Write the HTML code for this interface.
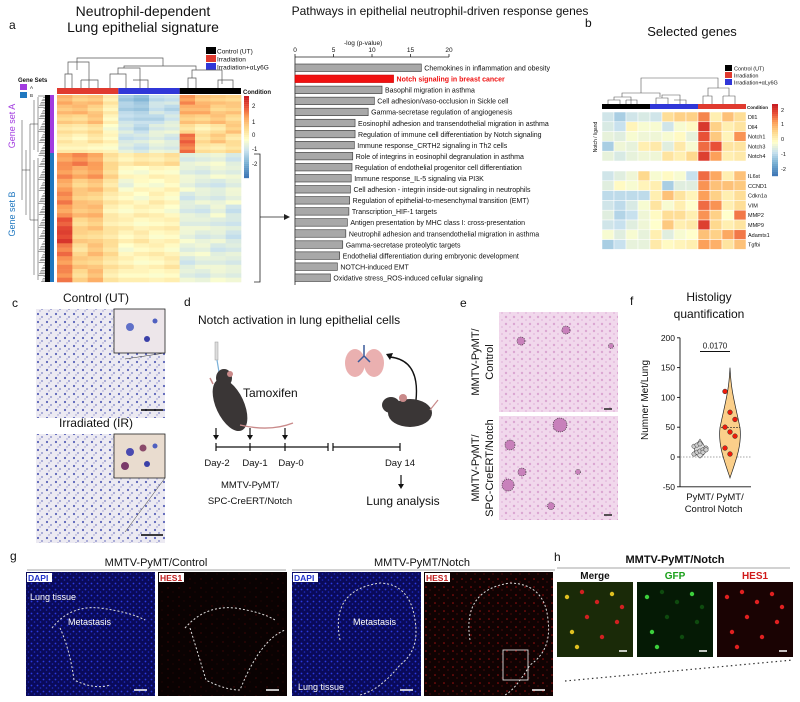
<!DOCTYPE html>
<html><head><meta charset="utf-8"><style>
html,body{margin:0;padding:0;background:#fff;}
svg{display:block;font-family:"Liberation Sans",Arial,sans-serif;}
</style></head><body>
<svg id="fig" width="800" height="702" viewBox="0 0 800 702" xmlns="http://www.w3.org/2000/svg">
<defs>
<pattern id="histoC" width="9" height="8" patternUnits="userSpaceOnUse"><rect width="9" height="8" fill="#eceaf2"/><circle cx="2" cy="2" r="1.1" fill="#5a63b8"/><circle cx="6" cy="5" r="0.9" fill="#7a7fc4"/><circle cx="4" cy="7" r="0.7" fill="#9a9ad0"/></pattern>
<pattern id="histoE" width="8" height="7" patternUnits="userSpaceOnUse"><rect width="8" height="7" fill="#f1d8ec"/><circle cx="2" cy="2" r="1.2" fill="#dba6d2"/><circle cx="6" cy="5" r="1" fill="#e5bde0"/></pattern>
<pattern id="dapi" width="6" height="6" patternUnits="userSpaceOnUse"><rect width="6" height="6" fill="#0a0a5a"/><circle cx="1.5" cy="1.5" r="0.9" fill="#2a3ae0"/><circle cx="4.5" cy="4" r="0.8" fill="#1e2cc0"/></pattern>
<pattern id="hes" width="11" height="9" patternUnits="userSpaceOnUse"><rect width="11" height="9" fill="#0a0202"/><circle cx="3" cy="3" r="0.6" fill="#5a0a0a"/><circle cx="8" cy="7" r="0.5" fill="#400808"/></pattern>
<pattern id="hesN" width="9" height="8" patternUnits="userSpaceOnUse"><rect width="9" height="8" fill="#100202"/><circle cx="3" cy="3" r="0.8" fill="#a01010"/><circle cx="7" cy="6" r="0.6" fill="#701010"/></pattern>
</defs>
<g id="root"></g>
</svg>
<script>
// ---------- Panel a pathway bars ----------
const pathwayNames = ["Chemokines in inflammation and obesity","Notch signaling in breast cancer","Basophil migration in asthma","Cell adhesion/vaso-occlusion in Sickle cell","Gamma-secretase regulation of angiogenesis","Eosinophil adhesion and transendothelial migration in asthma","Regulation of immune cell differentiation by Notch signaling","Immune response_CRTH2 signaling in Th2 cells","Role of integrins in eosinophil degranulation in asthma","Regulation of endothelial progenitor cell differentiation","Immune response_IL-5 signaling via PI3K","Cell adhesion - integrin inside-out signaling in neutrophils","Regulation of epithelial-to-mesenchymal transition (EMT)","Transcription_HIF-1 targets","Antigen presentation by MHC class I: cross-presentation","Neutrophil adhesion and transendothelial migration in asthma","Gamma-secretase proteolytic targets","Endothelial differentiation during embryonic development","NOTCH-induced EMT","Oxidative stress_ROS-induced cellular signaling"];
const pathwayValues = [16.4,12.8,11.3,10.3,9.5,7.8,7.8,7.7,7.5,7.4,7.3,7.2,7.1,7.0,6.8,6.6,6.2,5.8,5.5,4.6];
const pathwayTicks = [0,5,10,15,20];
// ---------- Panel a heatmap (row blocks x 12 samples: Irr x4, Irr+aLy6G x4, Control x4) ----------
const heatBlocksA = [
 [1.2,0.9,1.0,0.4,-1.0,-1.2,-0.7,-0.6,1.5,1.0,0.9,0.8],
 [1.0,1.1,0.8,0.3,-0.9,-1.0,-0.6,-0.8,1.2,1.2,0.8,0.9],
 [0.8,0.7,1.0,0.2,-0.7,-0.8,-0.8,-0.5,0.9,0.8,1.0,0.7],
 [0.5,0.4,0.6,0.0,-0.5,-0.8,-0.4,-0.3,0.6,0.3,0.5,0.9],
 [0.4,0.2,0.5,0.2,-0.6,-0.5,-0.3,-0.5,1.8,0.6,0.9,0.5],
 [0.3,0.3,0.2,0.1,-0.4,-0.6,-0.3,-0.4,1.7,0.5,0.4,0.6]
];
const heatBlocksB = [
 [1.4,1.6,1.3,0.6,0.3,0.5,0.4,0.6,-0.4,-0.3,-0.2,-0.5],
 [1.5,1.2,1.4,0.7,0.1,0.0,0.2,0.1,-0.3,-0.4,-0.2,-0.3],
 [1.3,0.8,1.0,0.5,-0.2,0.1,0.0,0.2,-0.2,-0.4,-0.5,-0.3],
 [1.6,0.9,0.8,0.4,0.2,0.0,0.3,0.1,-0.5,-0.3,-0.4,-0.2],
 [1.4,1.0,1.1,0.3,0.1,0.3,0.2,0.0,-0.4,-0.5,-0.2,-0.6],
 [2.0,0.7,0.9,0.4,0.3,0.1,0.2,0.3,-0.3,-0.3,-0.4,-0.5],
 [2.2,0.8,0.7,0.5,0.2,0.4,0.1,0.2,-0.2,-0.4,-0.3,-0.6],
 [1.7,0.6,1.0,0.6,0.0,0.2,0.3,0.1,-0.3,-0.2,-0.5,-0.4],
 [1.5,0.9,0.8,0.5,0.3,0.1,0.2,0.4,-0.5,-0.3,-0.3,-0.4],
 [1.6,0.7,1.1,0.4,0.2,0.2,0.1,0.2,-0.3,-0.4,-0.2,-0.3]
];
// ---------- Panel b selected genes ----------
const geneNames = ["Dll1","Dll4","Notch1","Notch3","Notch4","IL6st","CCND1","Cdkn1a","VIM","MMP2","MMP9","Adamts1","Tgfbi"];
const geneValues = [
 [-0.6,-1.0,-0.6,-0.5,-0.6,0.6,0.8,0.8,1.6,0.3,1.0,0.6],
 [-0.5,-0.7,0.2,-0.1,-0.1,-0.6,-0.1,0.1,2.3,0.8,0.3,0.5],
 [-0.3,-0.4,-0.1,-0.2,-0.2,-0.1,0.1,-0.3,2.0,0.9,0.2,1.5],
 [-1.0,-0.2,-0.3,0.3,0.4,-0.4,0.4,-0.1,1.8,2.0,0.5,0.5],
 [-0.3,-0.5,-0.3,-0.2,-0.2,0.5,0.3,0.7,2.2,1.4,0.3,0.4],
 [-0.6,-0.4,-0.2,0.7,-0.1,0.1,-0.1,-0.7,1.8,1.3,0.3,1.0],
 [-0.4,0.1,-0.1,0.2,0.3,-1.0,-0.4,-0.4,1.5,1.0,1.0,0.9],
 [-0.8,-0.8,-0.8,-0.8,0.3,1.0,0.5,0.2,1.4,0.8,0.3,0.6],
 [-0.6,-0.8,-0.5,-0.1,0.5,-0.1,0.3,0.0,1.8,1.5,0.3,0.6],
 [-0.4,-0.9,-0.7,-0.2,0.1,0.6,0.6,0.3,1.5,0.8,0.0,1.7],
 [-0.6,-0.7,-0.4,-0.2,0.0,0.9,0.3,0.4,2.2,0.7,0.3,0.5],
 [-0.1,-0.4,-0.1,-0.3,0.3,-0.4,-0.1,0.0,1.0,0.8,1.3,1.7],
 [-1.0,-0.7,-0.3,-0.3,0.4,0.1,0.2,0.3,1.4,1.2,0.5,1.0]
];
// ---------- Panel f violin ----------
const controlPoints = [5,8,10,12,15,18,20,22,8,12];
const notchPoints = [110,75,63,50,42,35,15,5];
const fTicks = [200,150,100,50,0,-50];

const NS="http://www.w3.org/2000/svg";
const root=document.getElementById('root');
function mk(tag,attrs,parent,text){const e=document.createElementNS(NS,tag);for(const k in attrs)e.setAttribute(k,attrs[k]);if(text!==undefined)e.textContent=text;(parent||root).appendChild(e);return e;}
function txt(x,y,s,size,opt,parent){opt=opt||{};const a={x:x,y:y,'font-size':size,fill:opt.fill||'#111'};if(opt.anchor)a['text-anchor']=opt.anchor;if(opt.bold)a['font-weight']='bold';if(opt.rot)a.transform='rotate('+opt.rot+' '+x+' '+y+')';const t=mk('text',a,parent,s);return t;}
function lerp(a,b,t){return a.map((v,i)=>Math.round(v+(b[i]-v)*t));}
const stops=[[-2.5,[49,104,174]],[-1.5,[116,173,209]],[-0.7,[200,225,238]],[0,[255,255,204]],[0.7,[254,217,142]],[1.4,[252,160,90]],[2.0,[232,80,55]],[2.6,[200,30,35]]];
function col(v){if(v<=stops[0][0])return 'rgb('+stops[0][1]+')';for(let i=1;i<stops.length;i++){if(v<=stops[i][0]){const t=(v-stops[i-1][0])/(stops[i][0]-stops[i-1][0]);return 'rgb('+lerp(stops[i-1][1],stops[i][1],t)+')';}}return 'rgb('+stops[stops.length-1][1]+')';}

// ===== Panel a =====
txt(9,29,'a',12,{name:'panel-a-label'});
txt(143,16,'Neutrophil-dependent',14,{anchor:'middle',name:'heatmap-title'});
txt(143,32,'Lung epithelial signature',14,{anchor:'middle',name:'heatmap-title'});
const lg=[['#000','Control (UT)'],['#e03a2f','Irradiation'],['#3037d8','Irradiation+αLy6G']];
lg.forEach((d,i)=>{const r=mk('rect',{x:206,y:47+i*8,width:10,height:7,fill:d[0]});txt(217,53.5+i*8,d[1],6.5,{name:'legend-entry'});});
txt(18,82,'Gene Sets',6,{bold:true,name:'gene-sets-title'});
mk('rect',{x:20,y:84,width:7,height:6,fill:'#a23be0'});txt(30,89,'A',4.5,{});
mk('rect',{x:20,y:92,width:7,height:6,fill:'#2078c0'});txt(30,97,'B',4.5,{});
const hx0=57,hx1=241,hy0=95,hy1=282;
const cw=(hx1-hx0)/12;
// condition bar
['#e03a2f','#3037d8','#000'].forEach((c,i)=>{const r=mk('rect',{x:hx0+i*4*cw,y:88,width:4*cw,height:6,fill:c});});
txt(243,94,'Condition',6,{bold:true,name:'condition-label'});
// heatmap cells
const gA=mk('g',{});
const splitY=153;
function drawBlocks(blocks,y0,y1){const bh=(y1-y0)/blocks.length;blocks.forEach((row,bi)=>{row.forEach((v,ci)=>{const sub=3;for(let s=0;s<sub;s++){const vv=v+((s===1)?-0.15:(s===2?0.12:0));const r=mk('rect',{x:hx0+ci*cw,y:y0+bi*bh+s*bh/sub,width:cw+0.3,height:bh/sub+0.3,fill:col(vv)},gA);}});});}
drawBlocks(heatBlocksA,hy0,splitY);drawBlocks(heatBlocksB,splitY,hy1);
// gene set bars
mk('rect',{x:45,y:hy0,width:5,height:hy1-hy0,fill:'#000'});
mk('rect',{x:50,y:hy0,width:4,height:splitY-hy0,fill:'#a23be0'});
mk('rect',{x:50,y:splitY,width:4,height:hy1-splitY,fill:'#2078c0'});
txt(15,126,'Gene set A',9,{fill:'#a23be0',rot:-90,anchor:'middle',name:'gene-set-a-label'});
txt(15,214,'Gene set B',9,{fill:'#2078c0',rot:-90,anchor:'middle',name:'gene-set-b-label'});
// left dendrogram (schematic)
const dg=mk('g',{stroke:'#333','stroke-width':0.5,fill:'none'});
for(let y=hy0+1;y<hy1;y+=1.6){mk('line',{x1:45,y1:y,x2:38+((y*7)%6),y2:y},dg);}
mk('path',{d:'M38 97V152M38 158V280M30 124V220M30 124H38M30 220H38M22 170H30M22 120V200'},dg);
mk('path',{d:'M34 100V150M34 160V275M26 150V215'},dg);
// top dendrogram
const tg=mk('g',{stroke:'#555','stroke-width':0.7,fill:'none'});
mk('path',{d:'M65 88V74H72V88M68 74V62H89V88M81 80H98V88M81 80V88M89 62V68H89 M77 70V58H163V66 M110 88V74H126V88M118 74V68H140V88M133 80H148V88M140 76V88 M124 68V66H196V70 M188 88V78H196V88M192 78V70H222V80H218V88M218 80H233V88M222 80V84 M163 66V66'},tg);
// colorbar
for(let i=0;i<40;i++){const v=2.6-i*5/40;mk('rect',{x:244,y:96+i*2.05,width:5,height:2.2,fill:col(v)});}
[[2,108],[1,124],[0,137],[-1,151],[-2,166]].forEach(d=>txt(252,d[1],String(d[0]),6,{name:'colorbar-tick'}));
// bracket
mk('path',{d:'M254 154H260V282H254M260 217H284',stroke:'#222','stroke-width':0.8,fill:'none'});
mk('path',{d:'M284 214L290 217L284 220Z',fill:'#222'});

// ===== Panel a bars =====
txt(440,15,'Pathways in epithelial neutrophil-driven response genes',12,{anchor:'middle',name:'bar-chart-title'});
const bx0=295,bx1=449,by0=68,bstep=11.05;
const xs=v=>bx0+(bx1-bx0)*v/20;
txt(xs(10)-28,45,'-log (p-value)',6.5,{name:'x-axis-title'});
mk('line',{x1:xs(0),y1:57,x2:xs(20),y2:57,stroke:'#222','stroke-width':0.8});
mk('line',{x1:xs(0),y1:57,x2:xs(0),y2:285,stroke:'#222','stroke-width':0.8});
pathwayTicks.forEach(t=>{mk('line',{x1:xs(t),y1:54,x2:xs(t),y2:57,stroke:'#222','stroke-width':0.8});txt(xs(t),52,String(t),6.5,{anchor:'middle',name:'x-tick-label'});});
pathwayValues.forEach((v,i)=>{const y=by0+i*bstep;const red=i===1;const r=mk('rect',{x:xs(0),y:y-4,width:xs(v)-xs(0),height:7.5,fill:red?'#f01010':'#a8a8a8',stroke:red?'#c00':'#333','stroke-width':0.6});
txt(xs(v)+3,y+2.5,pathwayNames[i],7,{fill:red?'#f01010':'#111',bold:red,name:'pathway-label'});});

// ===== Panel b =====
txt(585,27,'b',12,{name:'panel-b-label'});
txt(692,36,'Selected genes',13,{anchor:'middle',name:'panel-b-title'});
lg.forEach((d,i)=>{mk('rect',{x:725,y:65+i*7,width:7,height:6,fill:d[0]});txt(734,70.5+i*7,d[1],5.5,{name:'legend-entry'});});
const bxh0=602,bcw=12;
['#000','#3037d8','#e03a2f'].forEach((c,i)=>mk('rect',{x:bxh0+i*4*bcw,y:104,width:4*bcw,height:5,fill:c}));
txt(747,109,'Condition',4.5,{bold:true});
const tg2=mk('g',{stroke:'#555','stroke-width':0.6,fill:'none'});
mk('path',{d:'M608 104V100H620V104M614 100V97H631V104M626 100H637V104M626 100V104M622 97V93H660V97M656 104V98H668V104M662 98V95H680V104M674 100H686V104M641 93V78H718V88M703 104V96H712V104M708 96V88H729V96M723 96H735V104M723 96V104'},tg2);
const bRowY=i=>i<5?112+i*9.8:171+(i-5)*9.8;
geneValues.forEach((row,ri)=>{row.forEach((v,ci)=>{const r=mk('rect',{x:bxh0+ci*bcw,y:bRowY(ri),width:bcw,height:9.8,fill:col(v),stroke:'#fff','stroke-width':0.5});});
txt(748,bRowY(ri)+7,geneNames[ri],5.5,{name:'gene-label'});});
txt(597,137,'Notch / ligand',5,{rot:-90,anchor:'middle',name:'notch-ligand-label'});
for(let i=0;i<36;i++){mk('rect',{x:772,y:104+i*2,width:6,height:2.2,fill:col(2.6-i*5/36)});}
[[2,112],[1,126],[0,141],[-1,156],[-2,171]].forEach(d=>txt(781,d[1],String(d[0]),5.5,{}));

// ===== Panel c =====
txt(12,307,'c',12,{name:'panel-c-label'});
txt(96,302,'Control (UT)',12,{anchor:'middle',name:'control-title'});
txt(96,427,'Irradiated (IR)',12,{anchor:'middle',name:'irradiated-title'});
[[309,'control-micrograph'],[434,'irradiated-micrograph']].forEach((d,i)=>{const r=mk('rect',{x:36,y:d[0],width:129,height:109,fill:'url(#histoC)'});
mk('rect',{x:114,y:d[0],width:51,height:44,fill:i?'#e9dccf':'#ede6ea',stroke:'#222','stroke-width':0.8});
mk('circle',{cx:130,cy:d[0]+18,r:4,fill:i?'#4a4ab0':'#6070c8'});mk('circle',{cx:147,cy:d[0]+30,r:3,fill:'#3a40a8'});mk('circle',{cx:155,cy:d[0]+12,r:2.5,fill:'#5060c0'});
if(i){mk('circle',{cx:125,cy:d[0]+32,r:4,fill:'#7a3a6a'});mk('circle',{cx:143,cy:d[0]+14,r:3.5,fill:'#8a4a6a'});}
mk('line',{x1:165,y1:d[0]+44,x2:125,y2:d[0]+(i?98:50),stroke:'#333','stroke-width':0.5});
mk('line',{x1:141,y1:d[0]+101,x2:163,y2:d[0]+101,stroke:'#000','stroke-width':1.5});});

// ===== Panel d =====
txt(184,306,'d',12,{name:'panel-d-label'});
txt(198,324,'Notch activation in lung epithelial cells',12,{name:'panel-d-title'});
// syringe + mouse 1
mk('rect',{x:215,y:342,width:3,height:18,fill:'#ddd',stroke:'#999','stroke-width':0.5});
mk('line',{x1:217,y1:360,x2:219,y2:372,stroke:'#7ab0d8','stroke-width':1.2});
const m1=mk('g',{});
mk('ellipse',{cx:230,cy:405,rx:14,ry:28,fill:'#3a3636',transform:'rotate(-25 230 405)'},m1);
mk('ellipse',{cx:224,cy:378,rx:8,ry:9,fill:'#3a3636'},m1);
mk('circle',{cx:230,cy:374,r:3,fill:'#c98a8a'},m1);
mk('path',{d:'M240 425Q270 432 293 423',stroke:'#c98a8a','stroke-width':1.3,fill:'none'},m1);
mk('path',{d:'M213 384L210 378',stroke:'#c98a8a','stroke-width':1.5},m1);
txt(243,397,'Tamoxifen',12,{name:'tamoxifen-label'});
// lungs + mouse 2
const lu=mk('g',{});
mk('ellipse',{cx:355,cy:363,rx:10,ry:14,fill:'#eab0b0'},lu);mk('ellipse',{cx:374,cy:363,rx:10,ry:14,fill:'#eab0b0'},lu);
mk('path',{d:'M364 345V356M364 356L358 362M364 356L370 362',stroke:'#3a5a9a','stroke-width':1.5,fill:'none'},lu);
mk('path',{d:'M416 400Q420 360 390 357',stroke:'#111','stroke-width':1.4,fill:'none'});mk('path',{d:'M386 354L393 353L390 360Z',fill:'#111'});
const m2=mk('g',{});
mk('ellipse',{cx:410,cy:413,rx:22,ry:14,fill:'#3a3636'},m2);mk('ellipse',{cx:391,cy:405,rx:9,ry:8,fill:'#3a3636'},m2);mk('circle',{cx:403,cy:398,r:4,fill:'#c98a8a'},m2);
mk('path',{d:'M430 410L438 400',stroke:'#c98a8a','stroke-width':1.2},m2);
// timeline
const tl=mk('g',{stroke:'#111','stroke-width':1.2,fill:'none'});
mk('path',{d:'M216 447H328M333 447H400M216 443V451M250 443V451M285 443V451M328 443V451M333 443V451M400 443V451'},tl);
[216,250,285].forEach(x=>{mk('line',{x1:x,y1:428,x2:x,y2:437,stroke:'#111','stroke-width':1.2});mk('path',{d:`M${x-3} 435L${x} 440L${x+3} 435Z`,fill:'#111'});});
txt(217,466,'Day-2',9.5,{anchor:'middle'});txt(255,466,'Day-1',9.5,{anchor:'middle'});txt(291,466,'Day-0',9.5,{anchor:'middle'});txt(400,466,'Day 14',9.5,{anchor:'middle'});
txt(250,488,'MMTV-PyMT/',9.5,{anchor:'middle'});txt(250,504,'SPC-CreERT/Notch',9.5,{anchor:'middle'});
mk('line',{x1:401,y1:475,x2:401,y2:485,stroke:'#111','stroke-width':1.2});mk('path',{d:'M398 484L401 489L404 484Z',fill:'#111'});
txt(403,505,'Lung analysis',12,{anchor:'middle',name:'lung-analysis-label'});

// ===== Panel e =====
txt(460,307,'e',12,{name:'panel-e-label'});
txt(479,362,'MMTV-PyMT/',11,{rot:-90,anchor:'middle'});txt(493,362,'Control',11,{rot:-90,anchor:'middle'});
txt(479,468,'MMTV-PyMT/',11,{rot:-90,anchor:'middle'});txt(493,468,'SPC-CreERT/Notch',11,{rot:-90,anchor:'middle'});
[[312,100],[416,104]].forEach((d,i)=>{const r=mk('rect',{x:499,y:d[0],width:119,height:d[1],fill:'url(#histoE)'});});
[[521,341,4],[566,330,4],[611,346,2.5],[560,425,7],[510,445,5],[522,472,4],[508,485,6],[578,472,2.5],[551,506,3.5]].forEach(c=>mk('circle',{cx:c[0],cy:c[1],r:c[2],fill:'#c880bb',stroke:'#222','stroke-width':0.6,'stroke-dasharray':'1 1'}));
mk('line',{x1:604,y1:409,x2:612,y2:409,stroke:'#222','stroke-width':1.5});mk('line',{x1:604,y1:515,x2:612,y2:515,stroke:'#222','stroke-width':1.5});

// ===== Panel f =====
txt(630,305,'f',12,{name:'panel-f-label'});
txt(709,301,'Histoligy',12,{anchor:'middle',name:'panel-f-title'});
txt(709,318,'quantification',12,{anchor:'middle',name:'panel-f-title'});
const fy=v=>457-v*0.596;
const fax=mk('g',{stroke:'#111','stroke-width':0.9});
mk('line',{x1:680,y1:fy(200),x2:680,y2:fy(-50)},fax);mk('line',{x1:680,y1:fy(-50),x2:751,y2:fy(-50)},fax);
fTicks.forEach(t=>{mk('line',{x1:677,y1:fy(t),x2:680,y2:fy(t),stroke:'#111','stroke-width':0.9});txt(675,fy(t)+3,String(t),8.5,{anchor:'end',name:'y-tick-label'});});
mk('line',{x1:680,y1:fy(0),x2:751,y2:fy(0),stroke:'#888','stroke-width':0.7,'stroke-dasharray':'1.5 1.5'});
txt(648,400,'Numner Met/Lung',10,{rot:-90,anchor:'middle',name:'y-axis-title'});
txt(700,500,'PyMT/',9.5,{anchor:'middle'});txt(700,512,'Control',9.5,{anchor:'middle'});
txt(730,500,'PyMT/',9.5,{anchor:'middle'});txt(730,512,'Notch',9.5,{anchor:'middle'});
mk('line',{x1:700,y1:fy(177),x2:730,y2:fy(177),stroke:'#111','stroke-width':0.9});
txt(715,fy(182),'0.0170',8,{anchor:'middle',name:'p-value'});
// violin notch (shape from min/max of data)
const nMax=Math.max(...notchPoints),nMin=Math.min(...notchPoints);
const vtop=fy(nMax+40),vbot=fy(nMin-40),mid=fy(notchPoints.reduce((a,b)=>a+b,0)/notchPoints.length);
const vio=mk('path',{d:`M730 ${vtop}C731 ${fy(nMax)} 735 ${fy(nMax-20)} 740 ${mid}C742 ${fy(20)} 736 ${fy(-5)} 730 ${vbot}C724 ${fy(-5)} 718 ${fy(20)} 720 ${mid}C725 ${fy(nMax-20)} 729 ${fy(nMax)} 730 ${vtop}Z`,fill:'#fbcf8a',stroke:'#222','stroke-width':0.7});

mk('line',{x1:721,y1:mid,x2:740,y2:mid,stroke:'#222','stroke-width':0.6,'stroke-dasharray':'2 1'});
const cmax=Math.max(...controlPoints);
const cv=mk('path',{d:`M700 ${fy(cmax+8)}C706 ${fy(15)} 709 ${fy(10)} 700 ${fy(-2)}C691 ${fy(10)} 694 ${fy(15)} 700 ${fy(cmax+8)}Z`,fill:'#ddd',stroke:'#444','stroke-width':0.6});

controlPoints.forEach((v,i)=>{const c=mk('circle',{cx:694+(i%5)*3,cy:fy(v),r:2.2,fill:'#ccc',stroke:'#333','stroke-width':0.5});});
notchPoints.forEach((v,i)=>{const c=mk('circle',{cx:730+((i%3)-1)*5,cy:fy(v),r:2.4,fill:'#f01a0a',stroke:'#333','stroke-width':0.5});});

// ===== Panel g =====
txt(10,560,'g',12,{name:'panel-g-label'});
txt(156,566,'MMTV-PyMT/Control',11,{anchor:'middle',name:'g-control-title'});
txt(422,566,'MMTV-PyMT/Notch',11,{anchor:'middle',name:'g-notch-title'});
mk('line',{x1:27,y1:570,x2:286,y2:570,stroke:'#888','stroke-width':0.8});mk('line',{x1:292,y1:570,x2:555,y2:570,stroke:'#888','stroke-width':0.8});
const gp=[[26,'url(#dapi)','DAPI','#2233cc'],[158,'url(#hes)','HES1','#c01a1a'],[292,'url(#dapi)','DAPI','#2233cc'],[424,'url(#hesN)','HES1','#c01a1a']];
gp.forEach((d,i)=>{const r=mk('rect',{x:d[0],y:572,width:129,height:124,fill:d[1]});
mk('rect',{x:d[0]+1,y:573,width:25,height:9,fill:'#fff'});txt(d[0]+2,581,d[2],8.5,{fill:d[3],bold:true,name:'channel-label'});
mk('line',{x1:d[0]+108,y1:690,x2:d[0]+121,y2:690,stroke:'#fff','stroke-width':1.5});});
const dash={fill:'none',stroke:'#ddd','stroke-width':1,'stroke-dasharray':'2 2'};
mk('path',Object.assign({d:'M52 628Q70 605 100 608Q130 612 145 620M60 628Q70 650 74 680Q95 690 110 685'},dash));
mk('path',Object.assign({d:'M185 628Q205 605 235 608Q262 612 275 620M190 628Q200 660 206 680Q225 690 240 690Q260 640 285 630'},dash));
mk('path',Object.assign({d:'M340 640Q330 590 380 583Q410 584 415 620Q420 650 400 665Q380 690 360 695'},dash));
mk('path',Object.assign({d:'M470 640Q462 590 510 583Q545 584 548 620Q552 650 530 665Q515 690 505 695'},dash));
txt(30,600,'Lung tissue',9,{fill:'#fff',name:'lung-tissue-label'});txt(68,625,'Metastasis',9,{fill:'#fff',name:'metastasis-label'});
txt(353,625,'Metastasis',9,{fill:'#fff'});txt(298,690,'Lung tissue',9,{fill:'#fff'});
mk('rect',{x:503,y:650,width:25,height:30,fill:'none',stroke:'#ddd','stroke-width':0.9});

// ===== Panel h =====
txt(554,561,'h',12,{name:'panel-h-label'});
txt(675,563,'MMTV-PyMT/Notch',11,{anchor:'middle',bold:true,name:'h-title'});
mk('line',{x1:557,y1:568,x2:790,y2:568,stroke:'#888','stroke-width':0.8});
txt(595,579,'Merge',10,{anchor:'middle',bold:true});txt(675,579,'GFP',10,{anchor:'middle',bold:true,fill:'#1aa01a'});txt(755,579,'HES1',10,{anchor:'middle',bold:true,fill:'#d01a1a'});
[[557,'#1a2a08'],[637,'#051a05'],[717,'#1a0303']].forEach((d,i)=>{const r=mk('rect',{x:d[0],y:582,width:76,height:75,fill:d[1]});
const dots=[[10,15],[25,10],[40,20],[55,12],[30,35],[60,40],[15,50],[45,55],[65,25],[20,65]];
dots.forEach((p,j)=>{const c=i===1?(j%3===0?'#3cd03c':'#0e4a0e'):(i===0?(j%3===0?'#e0c020':'#d02020'):'#e02020');mk('circle',{cx:d[0]+p[0],cy:582+p[1],r:2.2,fill:c});});
mk('line',{x1:d[0]+62,y1:651,x2:d[0]+70,y2:651,stroke:'#fff','stroke-width':1.5});});
mk('line',{x1:565,y1:681,x2:793,y2:660,stroke:'#333','stroke-width':1.2,'stroke-dasharray':'1.5 3'});
</script>
</body></html>
